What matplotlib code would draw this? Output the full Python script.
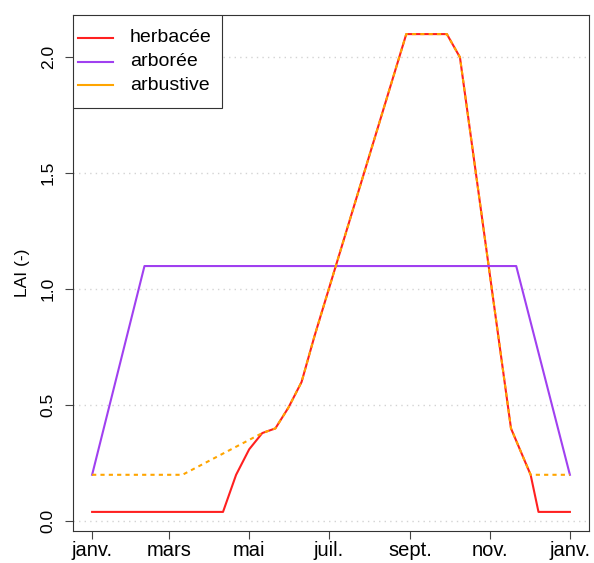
import matplotlib
matplotlib.use("Agg")
import matplotlib.pyplot as plt
from matplotlib.patches import Rectangle

plt.rcParams['font.family'] = ['Liberation Sans', 'DejaVu Sans']

# day of year -> LAI
herb_days = [0, 100, 110, 120, 130, 140, 150, 160, 170, 240, 271, 281, 320, 335, 341, 365]
herb_lai = [0.04, 0.04, 0.20, 0.31, 0.38, 0.40, 0.49, 0.60, 0.80, 2.10, 2.10, 2.00, 0.40, 0.20, 0.04, 0.04]

arbo_days = [0, 40, 324, 365]
arbo_lai = [0.2, 1.1, 1.1, 0.2]

arbu_days = [0, 69, 130, 140, 150, 160, 170, 240, 271, 281, 320, 335, 365]
arbu_lai = [0.2, 0.2, 0.38, 0.40, 0.49, 0.60, 0.80, 2.10, 2.10, 2.00, 0.40, 0.20, 0.20]

month_days = [0, 59, 120, 181, 243, 304, 365]
month_labels = ['janv.', 'mars', 'mai', 'juil.', 'sept.', 'nov.', 'janv.']
y_ticks = [0.0, 0.5, 1.0, 1.5, 2.0]

names = ['herbacée', 'arborée', 'arbustive']
colors = ['#FF2020', '#A040F0', '#FFA500']

fig = plt.figure(figsize=(5.94, 5.63), dpi=100)
ax = fig.add_axes([0.1229, 0.0568, 0.8687, 0.9166])

for yt in y_ticks:
    ax.axhline(yt, color='#D3D3D3', lw=1, ls=(0, (1, 3)), zorder=0)

ax.plot(herb_days, herb_lai, color=colors[0], lw=1.5)
ax.plot(arbo_days, arbo_lai, color=colors[1], lw=1.5)
ax.plot(arbu_days, arbu_lai, color=colors[2], lw=1.5, ls=(0, (2, 2)))

ymin, ymax = 0.04, 2.1
ext = (ymax - ymin) * 0.04
ax.set_ylim(ymin - ext, ymax + ext)
ax.set_xlim(-365 * 0.04, 365 * 1.04)

ax.set_xticks(month_days)
ax.set_xticklabels(month_labels, fontsize=14.5)
ax.set_yticks(y_ticks)
ax.set_yticklabels(['%.1f' % v for v in y_ticks], rotation=90, va='center', fontsize=12.5)
ax.tick_params(direction='out', length=5.5, width=0.8, color='#444444')
ax.tick_params(axis='x', pad=2)
ax.tick_params(axis='y', pad=7)
ax.set_ylabel('LAI (-)', fontsize=12.5, labelpad=8)
for s in ax.spines.values():
    s.set_linewidth(0.8)
    s.set_color('#333333')

# legend drawn by hand (R style box)
ax.add_patch(Rectangle((0, 0.8198), 0.2888, 0.1802, transform=ax.transAxes,
                       facecolor='white', edgecolor='#333333', lw=0.8, zorder=5))
row_y = [0.9554, 0.9089, 0.8643]
for name, c, yy in zip(names, colors, row_y):
    ax.plot([0.0097, 0.0775], [yy, yy], transform=ax.transAxes, color=c, lw=1.5, zorder=6)
    ax.text(0.1105, yy, name, transform=ax.transAxes, fontsize=14, va='center', zorder=6)

fig.savefig('out.png', dpi=100)
